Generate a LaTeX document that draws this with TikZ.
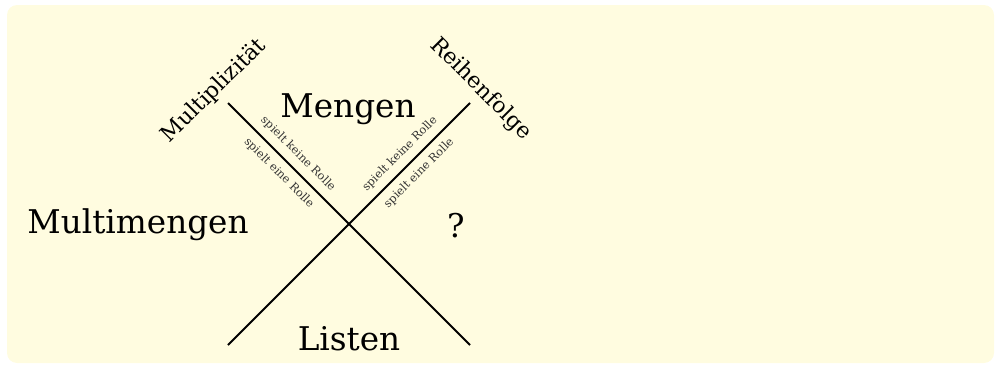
\documentclass[tikz,border=0pt]{standalone}
\usepackage{fontspec}
\setmainfont{DejaVu Serif}
\usepackage{tikz}
\usepackage{xcolor}
\definecolor{paper}{RGB}{255,252,224}

\begin{document}
\begin{tikzpicture}[x=0.02cm,y=0.02cm,
  big/.style={font=\fontsize{18.6}{22}\selectfont,anchor=base},
  axis/.style={font=\fontsize{12.5}{15}\selectfont},
  hint/.style={font=\fontsize{6.5}{8}\selectfont,text=black!80,sloped,inner sep=4pt}]
  \useasboundingbox (0,0) rectangle (995,366);
  \fill[paper,rounded corners=0.2cm] (7,3) rectangle (994,361);

  % the two axes
  \coordinate (tl) at (228,263);
  \coordinate (br) at (470,21);
  \coordinate (tr) at (470,263);
  \coordinate (bl) at (228,21);
  \draw[line width=1.1pt] (tl) -- (br)
    node[hint,pos=0.25,above] (mk) {spielt keine Rolle}
    node[hint,pos=0.25,below] (me) {spielt eine Rolle};
  \draw[line width=1.1pt] (bl) -- (tr)
    node[hint,pos=0.75,above] (rk) {spielt keine Rolle}
    node[hint,pos=0.75,below] (re) {spielt eine Rolle};
  \node[axis,rotate=45] (multi) at (214,275) {Multiplizität};
  \node[axis,rotate=-45] (reihe) at (481,277) {Reihenfolge};

  % the four fields
  \node[big] (mengen) at (348,249) {Mengen};
  \node[big] (multimengen) at (138,133) {Multimengen};
  \node[big] (listen) at (349,16) {Listen};
  \node[big] (frage) at (456,129) {?};
\end{tikzpicture}
\end{document}
